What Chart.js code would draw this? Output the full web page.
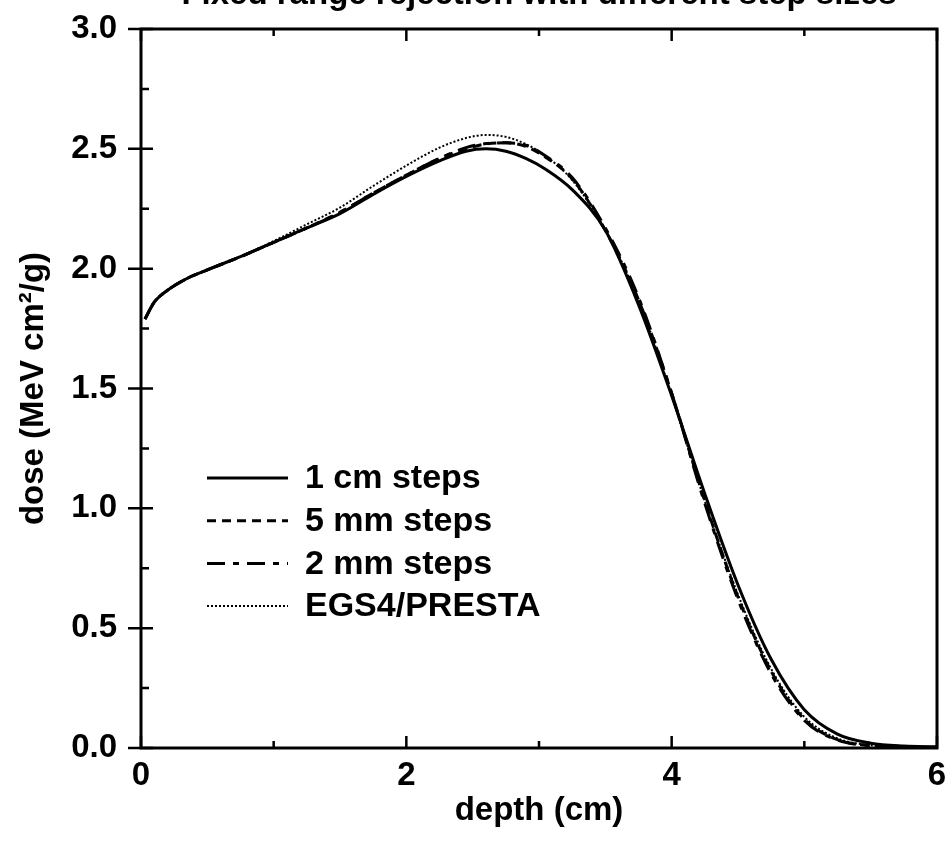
<!DOCTYPE html>
<html>
<head>
<meta charset="utf-8">
<script src="https://cdn.jsdelivr.net/npm/chart.js@4.4.1/dist/chart.umd.min.js"></script>
<style>
  html, body { margin: 0; padding: 0; background: #fff; }
</style>
</head>
<body>
<canvas id="myChart" width="950" height="844"></canvas>
<script>
const titleText = "Fixed range rejection with different step sizes";

const depth = [0.03, 0.1, 0.2, 0.35, 0.5, 0.75, 1.0, 1.25, 1.5, 1.75, 2.0, 2.25, 2.45, 2.6, 2.75,
  2.9, 3.05, 3.25, 3.5, 3.75, 4.0, 4.25, 4.5, 4.75, 5.0, 5.25, 5.5, 5.75, 6.0];

const steps1cm = [1.79, 1.86, 1.91, 1.96, 1.995, 2.05, 2.11, 2.17, 2.23, 2.31, 2.385, 2.45, 2.49, 2.50, 2.49,
  2.46, 2.415, 2.33, 2.16, 1.85, 1.47, 1.06, 0.68, 0.37, 0.16, 0.058, 0.02, 0.008, 0.005];
const steps5mm = [1.79, 1.86, 1.91, 1.96, 1.995, 2.05, 2.11, 2.17, 2.235, 2.315, 2.39, 2.46, 2.50, 2.52, 2.525,
  2.51, 2.465, 2.375, 2.16, 1.87, 1.48, 1.03, 0.63, 0.32, 0.12, 0.035, 0.01, 0.004, 0.003];
const steps2mm = [1.79, 1.86, 1.91, 1.96, 1.995, 2.05, 2.11, 2.17, 2.235, 2.315, 2.39, 2.46, 2.505, 2.522, 2.525,
  2.515, 2.47, 2.38, 2.17, 1.88, 1.48, 1.02, 0.62, 0.31, 0.115, 0.033, 0.01, 0.004, 0.003];
const presta = [1.79, 1.86, 1.91, 1.96, 1.995, 2.05, 2.115, 2.185, 2.255, 2.345, 2.43, 2.505, 2.545, 2.558, 2.55,
  2.52, 2.47, 2.37, 2.16, 1.87, 1.47, 1.03, 0.64, 0.33, 0.13, 0.04, 0.012, 0.005, 0.003];

const seriesLabels = ["1 cm steps", "5 mm steps", "2 mm steps", "EGS4/PRESTA"];
const xTicks = [0, 2, 4, 6];
const yTicks = [0, 0.5, 1.0, 1.5, 2.0, 2.5, 3.0];

const FONT = "'Liberation Sans', Arial, sans-serif";

function pts(arr) {
  return depth.map((d, i) => ({ x: d, y: arr[i] }));
}

// box + inward ticks like the original plot
const frame = {
  id: "frame",
  afterDraw(chart) {
    const { ctx, chartArea: a, scales: { x, y } } = chart;
    ctx.save();
    ctx.strokeStyle = "#000";
    ctx.lineWidth = 3;
    ctx.strokeRect(a.left, a.top, a.right - a.left, a.bottom - a.top);
    ctx.lineWidth = 2.5;
    ctx.beginPath();
    for (let v = 0; v <= 6; v++) {
      const px = x.getPixelForValue(v);
      const len = v % 2 === 0 ? 12 : 7;
      ctx.moveTo(px, a.bottom); ctx.lineTo(px, a.bottom - len);
      ctx.moveTo(px, a.top); ctx.lineTo(px, a.top + len);
    }
    for (let i = 0; i <= 12; i++) {
      const py = y.getPixelForValue(i * 0.25);
      if (i % 2 === 0) {
        ctx.moveTo(a.left - 13, py); ctx.lineTo(a.left + 12, py);
      } else {
        ctx.moveTo(a.left, py); ctx.lineTo(a.left + 8, py);
      }
    }
    ctx.stroke();

    // title, mostly cut off at the top edge
    ctx.fillStyle = "#000";
    ctx.font = "bold 33px " + FONT;
    ctx.textAlign = "center";
    ctx.textBaseline = "alphabetic";
    ctx.fillText(titleText, (a.left + a.right) / 2, 4);
    ctx.restore();
  }
};

// legend inside the plot
const innerLegend = {
  id: "innerLegend",
  afterDraw(chart) {
    const { ctx } = chart;
    ctx.save();
    ctx.font = "bold 34px " + FONT;
    ctx.fillStyle = "#000";
    ctx.textBaseline = "middle";
    ctx.textAlign = "left";
    chart.data.datasets.forEach((ds, i) => {
      const yy = 478 + i * 42.7;
      ctx.strokeStyle = "#000";
      ctx.lineWidth = ds.borderWidth;
      ctx.setLineDash(ds.borderDash || []);
      ctx.beginPath();
      ctx.moveTo(207, yy);
      ctx.lineTo(288, yy);
      ctx.stroke();
      ctx.setLineDash([]);
      ctx.fillText(ds.label, 305, yy + 1);
    });
    ctx.restore();
  }
};

const ctx = document.getElementById("myChart").getContext("2d");

new Chart(ctx, {
  type: "line",
  data: {
    datasets: [
      {
        label: seriesLabels[0],
        data: pts(steps1cm),
        borderColor: "#000",
        borderWidth: 3,
      },
      {
        label: seriesLabels[1],
        data: pts(steps5mm),
        borderColor: "#000",
        borderWidth: 3,
        borderDash: [9, 6],
      },
      {
        label: seriesLabels[2],
        data: pts(steps2mm),
        borderColor: "#000",
        borderWidth: 3,
        borderDash: [18, 8, 6, 8],
      },
      {
        label: seriesLabels[3],
        data: pts(presta),
        borderColor: "#000",
        borderWidth: 2,
        borderDash: [2, 2],
      },
    ],
  },
  options: {
    responsive: false,
    animation: false,
    devicePixelRatio: 1,
    cubicInterpolationMode: "monotone",
    elements: { point: { radius: 0 } },
    layout: { padding: { top: 29, right: 13, left: 0, bottom: 0 } },
    scales: {
      x: {
        type: "linear",
        min: 0,
        max: 6,
        afterBuildTicks: (s) => { s.ticks = xTicks.map((v) => ({ value: v })); },
        afterFit: (s) => {
          s.height = 96;
          s.paddingLeft = 0;
          s.paddingRight = 0;
        },
        grid: { display: false, drawTicks: false },
        border: { display: false },
        ticks: {
          color: "#000",
          padding: 8,
          font: { family: FONT, size: 33, weight: "bold" },
          callback: (v) => String(v),
        },
        title: {
          display: true,
          text: "depth (cm)",
          color: "#000",
          font: { family: FONT, size: 33, weight: "bold", lineHeight: 1.2 },
          padding: { top: 0, bottom: 13 },
        },
      },
      y: {
        min: 0,
        max: 3,
        afterBuildTicks: (s) => { s.ticks = yTicks.map((v) => ({ value: v })); },
        afterFit: (s) => {
          s.width = 141;
          s.paddingTop = 0;
          s.paddingBottom = 0;
        },
        grid: { display: false, drawTicks: false },
        border: { display: false },
        ticks: {
          color: "#000",
          padding: 24,
          font: { family: FONT, size: 33, weight: "bold" },
          callback: (v) => v.toFixed(1),
        },
        title: {
          display: true,
          text: "dose (MeV cm²/g)",
          color: "#000",
          font: { family: FONT, size: 33, weight: "bold", lineHeight: 1.2 },
          padding: { top: 14, bottom: 0 },
        },
      },
    },
    plugins: {
      legend: { display: false },
      tooltip: { enabled: false },
    },
  },
  plugins: [frame, innerLegend],
});
</script>
</body>
</html>
